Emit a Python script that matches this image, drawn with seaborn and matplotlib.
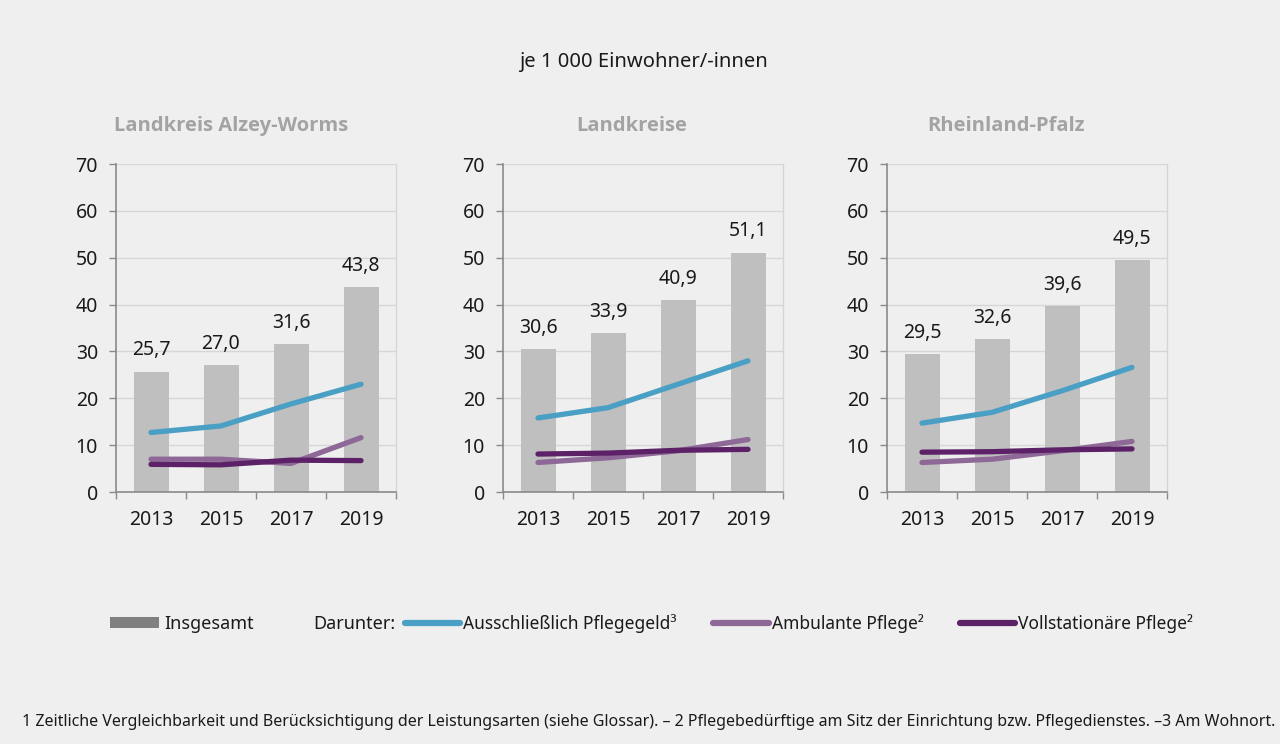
import matplotlib
matplotlib.use("Agg")
import matplotlib.pyplot as plt
import seaborn as sns
import pandas as pd
import numpy as np
from matplotlib.lines import Line2D
from matplotlib.patches import Patch
from matplotlib.ticker import FixedLocator, NullFormatter

# --- data -------------------------------------------------------------
years = ["2013", "2015", "2017", "2019"]
regions = ["Landkreis Alzey-Worms", "Landkreise", "Rheinland-Pfalz"]

insgesamt_alzey = [25.7, 27.0, 31.6, 43.8]
insgesamt_landkreise = [30.6, 33.9, 40.9, 51.1]
insgesamt_rlp = [29.5, 32.6, 39.6, 49.5]

pflegegeld_alzey = [12.7, 14.1, 18.8, 23.0]
pflegegeld_landkreise = [15.8, 18.0, 23.0, 28.0]
pflegegeld_rlp = [14.7, 17.0, 21.6, 26.6]

ambulant_alzey = [7.0, 7.0, 6.1, 11.6]
ambulant_landkreise = [6.3, 7.3, 8.8, 11.2]
ambulant_rlp = [6.3, 7.0, 8.8, 10.8]

stationaer_alzey = [5.9, 5.8, 6.8, 6.7]
stationaer_landkreise = [8.1, 8.3, 8.9, 9.1]
stationaer_rlp = [8.5, 8.6, 9.0, 9.2]

series_names = ["Ausschließlich Pflegegeld³", "Ambulante Pflege²", "Vollstationäre Pflege²"]
panel_data = [
    (insgesamt_alzey, [pflegegeld_alzey, ambulant_alzey, stationaer_alzey]),
    (insgesamt_landkreise, [pflegegeld_landkreise, ambulant_landkreise, stationaer_landkreise]),
    (insgesamt_rlp, [pflegegeld_rlp, ambulant_rlp, stationaer_rlp]),
]

# --- style ------------------------------------------------------------
BG = "#eeefee"
BAR = "#bfbfbf"
LEG_BAR = "#808080"
LINE_COLORS = ["#4a9fc4", "#8e6896", "#5c2166"]
GRID = "#d6d6d6"
SPINE = "#8a8a8a"
TEXT = "#1a1a1a"
TITLE_GREY = "#a3a3a3"

sns.set_theme(style="white")
plt.rcParams["font.family"] = ["Noto Sans", "DejaVu Sans"]

fig = plt.figure(figsize=(12.8, 7.44), dpi=100, facecolor=BG)

W, H = 1280, 744
axes_left_px = [116, 503, 887]
axes_w_px = 280
axes_top_px, axes_bot_px = 164, 492
title_x_px = [231, 632, 1006]

for i, (totals, lines) in enumerate(panel_data):
    ax = fig.add_axes([axes_left_px[i] / W, 1 - axes_bot_px / H,
                       axes_w_px / W, (axes_bot_px - axes_top_px) / H])
    ax.set_facecolor(BG)

    df_bar = pd.DataFrame({"Jahr": years, "Wert": totals})
    sns.barplot(data=df_bar, x="Jahr", y="Wert", color=BAR, width=0.5,
                saturation=1, linewidth=0, edgecolor="none", ax=ax, zorder=2)

    for name, vals, col in zip(series_names, lines, LINE_COLORS):
        df_line = pd.DataFrame({"Jahr": years, "Wert": vals})
        sns.lineplot(data=df_line, x="Jahr", y="Wert", color=col, lw=3.8,
                     sort=False, ax=ax, zorder=3, solid_capstyle="round")

    for xi, v in enumerate(totals):
        ax.annotate(f"{v:.1f}".replace(".", ","), (xi, v), xytext=(0, 8),
                    textcoords="offset points", ha="center", va="bottom",
                    fontsize=14, color=TEXT)

    ax.set_xlim(-0.5, 3.5)
    ax.set_ylim(0, 70)
    ax.set_yticks(np.arange(0, 71, 10))
    ax.yaxis.grid(True, color=GRID, lw=1, zorder=0)
    ax.set_axisbelow(True)
    ax.set_xlabel("")
    ax.set_ylabel("")

    ax.xaxis.set_minor_locator(FixedLocator(np.arange(-0.5, 3.6, 1)))
    ax.xaxis.set_minor_formatter(NullFormatter())
    ax.tick_params(axis="x", which="major", length=0, pad=13,
                   labelsize=14, labelcolor=TEXT)
    ax.tick_params(axis="x", which="minor", length=5, width=1,
                   color=SPINE, direction="out", bottom=True)
    ax.tick_params(axis="y", which="major", length=5, width=1, color=SPINE,
                   direction="out", left=True, labelsize=14, labelcolor=TEXT, pad=8)

    for side in ["left", "bottom"]:
        ax.spines[side].set_color(SPINE)
        ax.spines[side].set_linewidth(1.2)
    ax.spines["right"].set_color(GRID)
    ax.spines["right"].set_linewidth(1)
    ax.spines["top"].set_visible(False)

    fig.text(title_x_px[i] / W, 1 - 126 / H, regions[i], ha="center", va="center",
             fontsize=14.5, fontweight="bold", color=TITLE_GREY,
             family=["Open Sans", "DejaVu Sans"])

fig.text(643 / W, 1 - 62 / H, "je 1 000 Einwohner/-innen", ha="center",
         va="center", fontsize=14.5, color=TEXT)

# --- legend -------------------------------------------------------------
bar_handle = [Patch(facecolor=LEG_BAR, edgecolor="none")]
fig.legend(bar_handle, ["Insgesamt"], loc="center left",
           bbox_to_anchor=(94 / W, 1 - 624 / H), frameon=False,
           fontsize=13, handlelength=2.7, handleheight=0.55,
           handletextpad=0.3, labelcolor=TEXT)

fig.text(313 / W, 1 - 624 / H, "Darunter:", ha="left", va="center",
         fontsize=13, color=TEXT)

line_handles = [Line2D([0], [0], color=c, lw=4.5, solid_capstyle="round")
                for c in LINE_COLORS]
fig.legend(line_handles, series_names, loc="center left", ncol=3,
           bbox_to_anchor=(389 / W, 1 - 624 / H), frameon=False,
           fontsize=12.5, handlelength=3.2, handletextpad=0.17,
           columnspacing=2.1, labelcolor=TEXT)

fig.text(22 / W, 1 - 722 / H,
         "1 Zeitliche Vergleichbarkeit und Berücksichtigung der Leistungsarten "
         "(siehe Glossar). – 2 Pflegebedürftige am Sitz der Einrichtung bzw. "
         "Pflegedienstes. –3 Am Wohnort.",
         ha="left", va="center", fontsize=11.5, color=TEXT)

fig.savefig("out.png", dpi=100, facecolor=BG)
